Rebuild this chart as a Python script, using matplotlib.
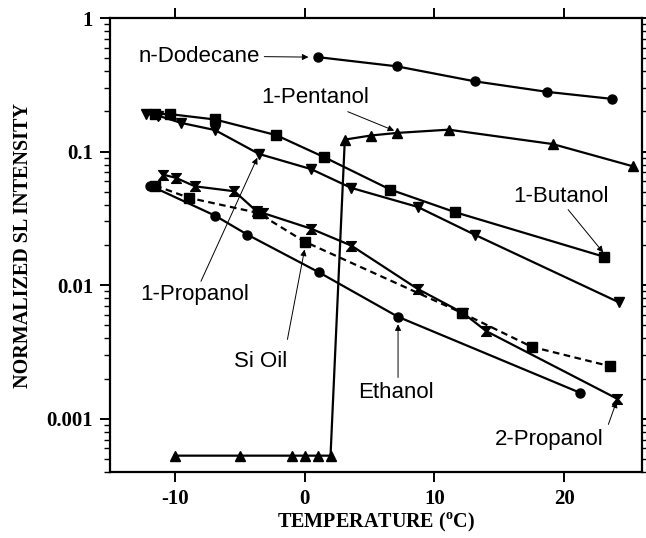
import matplotlib
matplotlib.use("Agg")
import matplotlib.pyplot as plt
from matplotlib.path import Path
from matplotlib.ticker import FixedLocator, FixedFormatter, LogLocator, NullFormatter

plt.rcParams['mathtext.fontset'] = 'custom'
plt.rcParams['mathtext.rm'] = 'Liberation Serif:bold'
plt.rcParams['mathtext.bf'] = 'Liberation Serif:bold'
plt.rcParams['axes.unicode_minus'] = False

# ---- data ----
dodecane_x = [1.0, 7.1, 13.1, 18.7, 23.7]
dodecane_y = [0.51, 0.435, 0.336, 0.28, 0.248]

pentanol_x = [-10, -5, -1, 0, 1, 2, 3.1, 5.1, 7.1, 11.1, 19.1, 25.3]
pentanol_y = [5.3e-4, 5.3e-4, 5.3e-4, 5.3e-4, 5.3e-4, 5.3e-4,
              0.123, 0.132, 0.138, 0.146, 0.114, 0.0776]

butanol_x = [-11.5, -10.4, -6.9, -2.2, 1.5, 6.6, 11.6, 23.1]
butanol_y = [0.191, 0.191, 0.174, 0.133, 0.091, 0.052, 0.0352, 0.0163]

propanol1_x = [-12.2, -11.3, -9.5, -6.9, -3.5, 0.5, 3.6, 8.7, 13.1, 24.2]
propanol1_y = [0.191, 0.186, 0.164, 0.145, 0.096, 0.074, 0.0535, 0.0386, 0.0239, 0.00746]

ethanol_x = [-11.9, -6.9, -4.4, 1.1, 7.2, 21.2]
ethanol_y = [0.0557, 0.0332, 0.0239, 0.0125, 0.0058, 0.00157]

sioil_x = [-11.5, -8.9, -3.6, 0.0, 12.1, 17.5, 23.5]
sioil_y = [0.0557, 0.0451, 0.0348, 0.0212, 0.00622, 0.00346, 0.00248]

propanol2_x = [-10.9, -9.9, -8.45, -5.4, -3.7, -3.2, 0.5, 3.6, 8.7, 12.2, 14.0, 24.1]
propanol2_y = [0.0673, 0.0636, 0.055, 0.0505, 0.0358, 0.0347, 0.0265, 0.0198,
               0.0094, 0.0062, 0.00453, 0.00141]

xticks = [-10, 0, 10, 20]
yticks = [0.001, 0.01, 0.1, 1]
ytick_labels = ['0.001', '0.01', '0.1', '1']

# annotations: label, text pos, arrow start, arrow end
annots = [
    ("n-Dodecane", (-12.8, 0.514), (-3.1, 0.514), (0.3, 0.51)),
    ("1-Pentanol", (-3.33, 0.252), (3.33, 0.199), (6.9, 0.1435)),
    ("1-Butanol", (16.05, 0.0463), (20.3, 0.0368), (23.0, 0.0176)),
    ("1-Propanol", (-12.64, 0.0085), (-7.98, 0.0107), (-3.64, 0.090)),
    ("Si Oil", (-5.43, 0.0027), (-1.32, 0.00393), (0.0, 0.0185)),
    ("Ethanol", (4.1, 0.00157), (7.2, 0.00204), (7.2, 0.0051)),
    ("2-Propanol", (14.65, 0.000702), (23.4, 0.000908), (24.03, 0.00135)),
]

hourglass = Path([(-1, 1), (1, 1), (0.18, 0), (1, -1), (-1, -1), (-0.18, 0), (-1, 1)],
                 [Path.MOVETO, Path.LINETO, Path.LINETO, Path.LINETO, Path.LINETO,
                  Path.LINETO, Path.CLOSEPOLY])

fig = plt.figure(figsize=(6.46, 5.38), dpi=100)
ax = fig.add_axes([0.170, 0.1227, 0.824, 0.8438])

lw = 1.6
kw = dict(color='black', lw=lw, mfc='black', mec='black')
ax.plot(dodecane_x, dodecane_y, marker='o', ms=6.5, **kw)
ax.plot(pentanol_x, pentanol_y, marker='^', ms=6.5, **kw)
ax.plot(butanol_x, butanol_y, marker='s', ms=6.5, **kw)
ax.plot(propanol1_x, propanol1_y, marker='v', ms=6.5, **kw)
ax.plot(ethanol_x, ethanol_y, marker='o', ms=6.5, **kw)
ax.plot(sioil_x, sioil_y, marker='s', ms=6.5, ls=(0, (3, 2)), **kw)
ax.plot(propanol2_x, propanol2_y, marker=hourglass, ms=7, **kw)

for label, tpos, a0, a1 in annots:
    ax.text(tpos[0], tpos[1], label, ha='left', va='center',
            fontsize=16, family='Liberation Sans')
    ax.annotate('', xy=a1, xytext=a0,
                arrowprops=dict(arrowstyle='-|>', lw=0.7, color='black',
                                mutation_scale=9, shrinkA=0, shrinkB=0))

ax.set_yscale('log')
ax.set_xlim(-15, 26)
ax.set_ylim(4.0e-4, 1)

ax.xaxis.set_major_locator(FixedLocator(xticks))
ax.xaxis.set_major_formatter(FixedFormatter([str(t) for t in xticks]))
ax.yaxis.set_major_locator(FixedLocator(yticks))
ax.yaxis.set_major_formatter(FixedFormatter(ytick_labels))
ax.yaxis.set_minor_locator(LogLocator(base=10, subs=range(2, 10)))
ax.yaxis.set_minor_formatter(NullFormatter())

for lab in ax.get_xticklabels() + ax.get_yticklabels():
    lab.set_fontfamily('Liberation Serif')
    lab.set_fontweight('bold')
    lab.set_fontsize(15)

ax.tick_params(which='major', direction='out', length=7, width=1.4,
               top=True, right=True, pad=5)
ax.tick_params(which='minor', direction='out', length=4, width=1.0,
               right=True, left=True)
for s in ax.spines.values():
    s.set_linewidth(1.6)

ax.set_xlabel(r'TEMPERATURE ($^{\rm o}$C)', fontsize=14.5,
              family='Liberation Serif', fontweight='bold', labelpad=2)
ax.set_ylabel('NORMALIZED SL INTENSITY', fontsize=14.5,
              family='Liberation Serif', fontweight='bold', labelpad=10)

fig.savefig('out.png', dpi=100)
